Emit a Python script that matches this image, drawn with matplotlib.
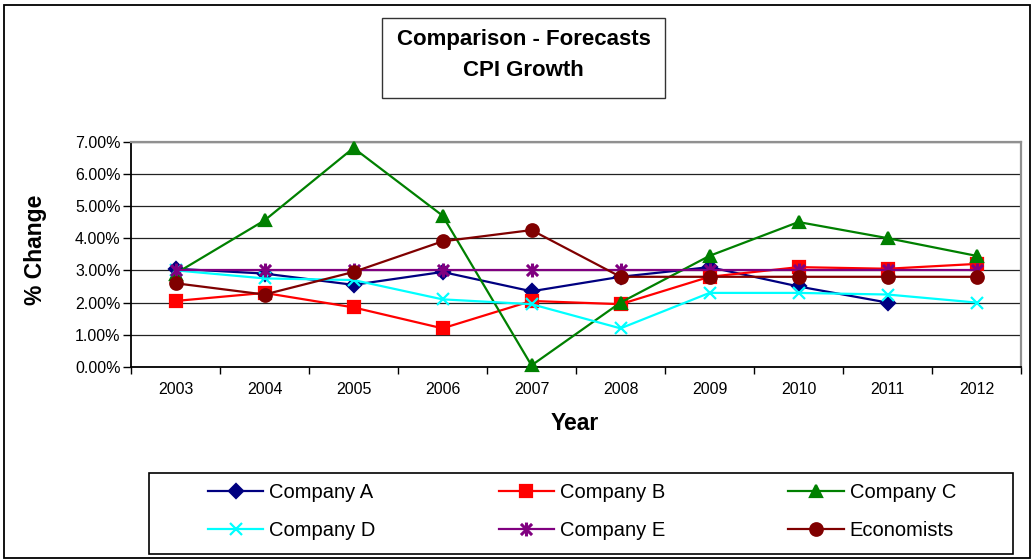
import numpy as np
import matplotlib
matplotlib.use("Agg")
import matplotlib.pyplot as plt
from matplotlib.path import Path
from matplotlib.patches import Rectangle
from matplotlib.ticker import PercentFormatter

plt.rcParams['font.family'] = ['Liberation Sans', 'DejaVu Sans']

years = [2003, 2004, 2005, 2006, 2007, 2008, 2009, 2010, 2011, 2012]
company_a = [3.05, 2.9, 2.55, 2.95, 2.35, 2.8, 3.1, 2.5, 2.0, np.nan]
company_b = [2.05, 2.3, 1.85, 1.2, 2.05, 1.95, 2.8, 3.1, 3.05, 3.2]
company_c = [2.9, 4.55, 6.8, 4.7, 0.05, 2.0, 3.45, 4.5, 4.0, 3.45]
company_d = [3.0, 2.75, 2.7, 2.1, 1.95, 1.2, 2.3, 2.3, 2.25, 2.0]
company_e = [3.0, 3.0, 3.0, 3.0, 3.0, 3.0, 3.0, 3.0, 3.0, 3.0]
economists = [2.6, 2.25, 2.95, 3.9, 4.25, 2.8, 2.8, 2.8, 2.8, 2.8]

# excel style star: x with a vertical bar
star = Path([(0, -1), (0, 1), (-0.8, -0.8), (0.8, 0.8), (-0.8, 0.8), (0.8, -0.8)],
            [Path.MOVETO, Path.LINETO, Path.MOVETO, Path.LINETO, Path.MOVETO, Path.LINETO])

series = [
    ("Company A", company_a, "#000080", "D", 7),
    ("Company B", company_b, "#FF0000", "s", 8.5),
    ("Company C", company_c, "#008000", "^", 9),
    ("Company D", company_d, "#00FFFF", "x", 8),
    ("Company E", company_e, "#800080", star, 10),
    ("Economists", economists, "#800000", "o", 9),
]

W, H = 1032, 560
fig = plt.figure(figsize=(W / 100, H / 100), dpi=100)
ax = fig.add_axes([131 / W, (H - 367) / H, (1021 - 131) / W, (367 - 141.5) / H])

handles = []
for i, (name, vals, col, mk, ms) in enumerate(series):
    line, = ax.plot(years, vals, color=col, lw=1.6, marker=mk, markersize=ms,
                    markerfacecolor=col, markeredgecolor=col,
                    markeredgewidth=2.2 if mk is star else 1.6,
                    label=name, zorder=3 + i, clip_on=False)
    handles.append(line)

ax.set_xlim(2002.5, 2012.5)
ax.set_ylim(0, 7)
ax.set_yticks(np.arange(0, 8, 1))
ax.yaxis.set_major_formatter(PercentFormatter(xmax=100, decimals=2))
ax.grid(axis='y', color='#222222', lw=0.9)
ax.set_axisbelow(True)

ax.set_xticks(np.arange(2002.5, 2013, 1))
ax.set_xticklabels([])
ax.set_xticks(years, minor=True)
ax.set_xticklabels([str(y) for y in years], minor=True)
ax.tick_params(axis='x', which='major', direction='out', length=5, width=1)
ax.tick_params(axis='x', which='minor', length=0, pad=11, labelsize=11.5)
ax.tick_params(axis='y', direction='out', length=6, width=1, pad=1.5, labelsize=11.5)

for s in ['left', 'bottom']:
    ax.spines[s].set_color('black')
    ax.spines[s].set_linewidth(1.3)
for s in ['top', 'right']:
    ax.spines[s].set_color('#909090')
    ax.spines[s].set_linewidth(1.6)

ax.set_ylabel('% Change', fontsize=16.5, fontweight='bold')
ax.yaxis.set_label_coords(47 / W, (H - 250) / H, transform=fig.transFigure)
fig.text(575 / W, (H - 424) / H, 'Year', fontsize=16.5, fontweight='bold',
         ha='center', va='center')

# title box
fig.patches.append(Rectangle((382 / W, (H - 97.7) / H), (665 - 382) / W, 80 / H,
                             transform=fig.transFigure, fill=False, ec='#333333', lw=1.0))
fig.text(523.5 / W, (H - 55) / H, 'Comparison - Forecasts\nCPI Growth', fontsize=16,
         fontweight='bold', ha='center', va='center', linespacing=1.6)

# legend box, entries laid out row by row like the original
fig.patches.append(Rectangle((149 / W, (H - 554) / H), (1013 - 149) / W, (554 - 473) / H,
                             transform=fig.transFigure, fill=False, ec='black', lw=1.2))
order = [0, 3, 1, 4, 2, 5]
leg_handles = [handles[k] for k in order]
fig.legend(leg_handles, [h.get_label() for h in leg_handles], ncol=3, mode='expand',
           bbox_to_anchor=(208 / W, (H - 551) / H, (956 - 208) / W, (551 - 472) / H),
           loc='center', frameon=False, borderpad=0, borderaxespad=0,
           handlelength=2.75, handletextpad=0.3, labelspacing=0.95, fontsize=14.5)

# outer border
fig.patches.append(Rectangle((4 / W, 2 / H), 1026 / W, 553 / H,
                             transform=fig.transFigure, fill=False, ec='black', lw=1.3))

fig.savefig('out.png', dpi=100)
